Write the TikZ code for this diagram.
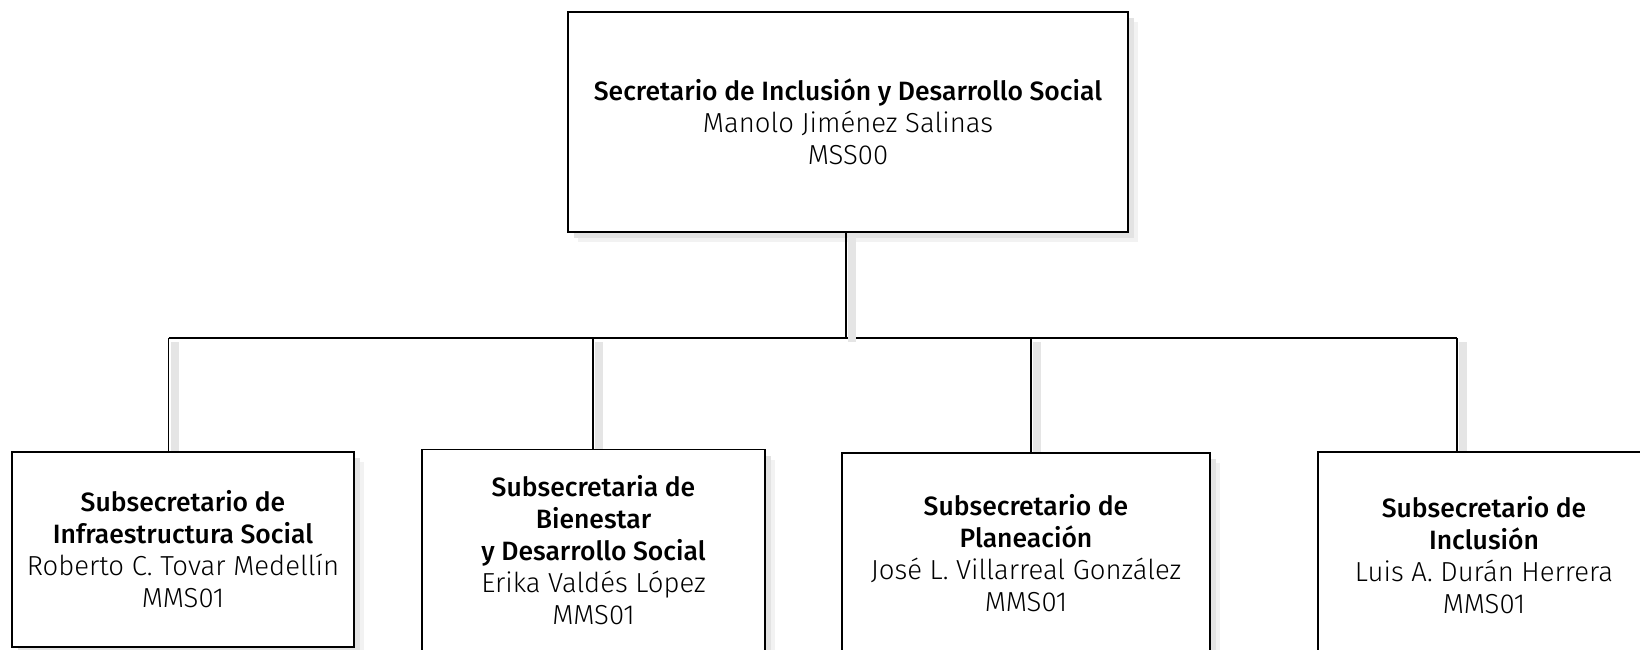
\documentclass[tikz,border=0pt]{standalone}
\usepackage{fontspec}
\setmainfont{Fira Sans}[UprightFont=* Light, BoldFont=* Medium]
\usetikzlibrary{shadows}
\pgfdeclarelayer{background}
\pgfsetlayers{background,main}
\newcommand{\tl}[1]{{\fontsize{26.5}{32}\selectfont\bfseries #1}}
\newcommand{\nm}[1]{{\fontsize{27.5}{32}\selectfont #1}}
\tikzset{
  orgbox/.style={draw=black, line width=1.6pt, fill=white, align=center,
    inner sep=0pt, font=\fontsize{27}{32}\selectfont,
    general shadow={fill=gray!10, shadow xshift=10pt, shadow yshift=-10pt},
    general shadow={fill=gray!22, shadow xshift=6pt, shadow yshift=-6pt}},
  conn/.style={draw=black, line width=1.4pt,
    preaction={draw=gray!20, line width=8pt, transform canvas={xshift=6pt, yshift=-4pt}}},
  bus/.style={draw=black, line width=1.4pt}
}
\begin{document}
\begin{tikzpicture}[x=1pt, y=-1pt]
\useasboundingbox (0,0) rectangle (1640,650);
\node[orgbox, minimum width=560pt, minimum height=220pt] (top) at (848,122)
  {\tl{Secretario de Inclusión y Desarrollo Social}\\\nm{Manolo Jiménez Salinas}\\\nm{MSS00}};
\node[orgbox, minimum width=342pt, minimum height=195pt] (b1) at (183,549.5)
  {\tl{Subsecretario de}\\\tl{Infraestructura Social}\\\nm{Roberto C. Tovar Medellín}\\\nm{MMS01}};
\node[orgbox, minimum width=343pt, minimum height=201pt] (b2) at (593.5,550)
  {\tl{Subsecretaria de}\\\tl{Bienestar}\\\tl{y Desarrollo Social}\\\nm{Erika Valdés López}\\\nm{MMS01}};
\node[orgbox, minimum width=368pt, minimum height=200pt] (b3) at (1026,553)
  {\tl{Subsecretario de}\\\tl{Planeación}\\\nm{José L. Villarreal González}\\\nm{MMS01}};
\node[orgbox, minimum width=332pt, minimum height=206pt] (b4) at (1484,555)
  {\tl{Subsecretario de}\\\tl{Inclusión}\\\nm{Luis A. Durán Herrera}\\\nm{MMS01}};
\coordinate (bus) at (846,338);
\coordinate (d1) at (168.5,338);
\coordinate (d2) at (593,338);
\coordinate (d3) at (1031,338);
\coordinate (d4) at (1457,338);
\begin{pgfonlayer}{background}
\fill[white] (0,0) rectangle (1640,650);
\draw[conn] (d1) -- (d1 |- b1.north);
\draw[conn] (d2) -- (d2 |- b2.north);
\draw[conn] (d3) -- (d3 |- b3.north);
\draw[conn] (d4) -- (d4 |- b4.north);
\draw[bus] (d1) -- (d4);
\end{pgfonlayer}
\draw[conn] (top.south -| bus) -- (bus);
\end{tikzpicture}
\end{document}
